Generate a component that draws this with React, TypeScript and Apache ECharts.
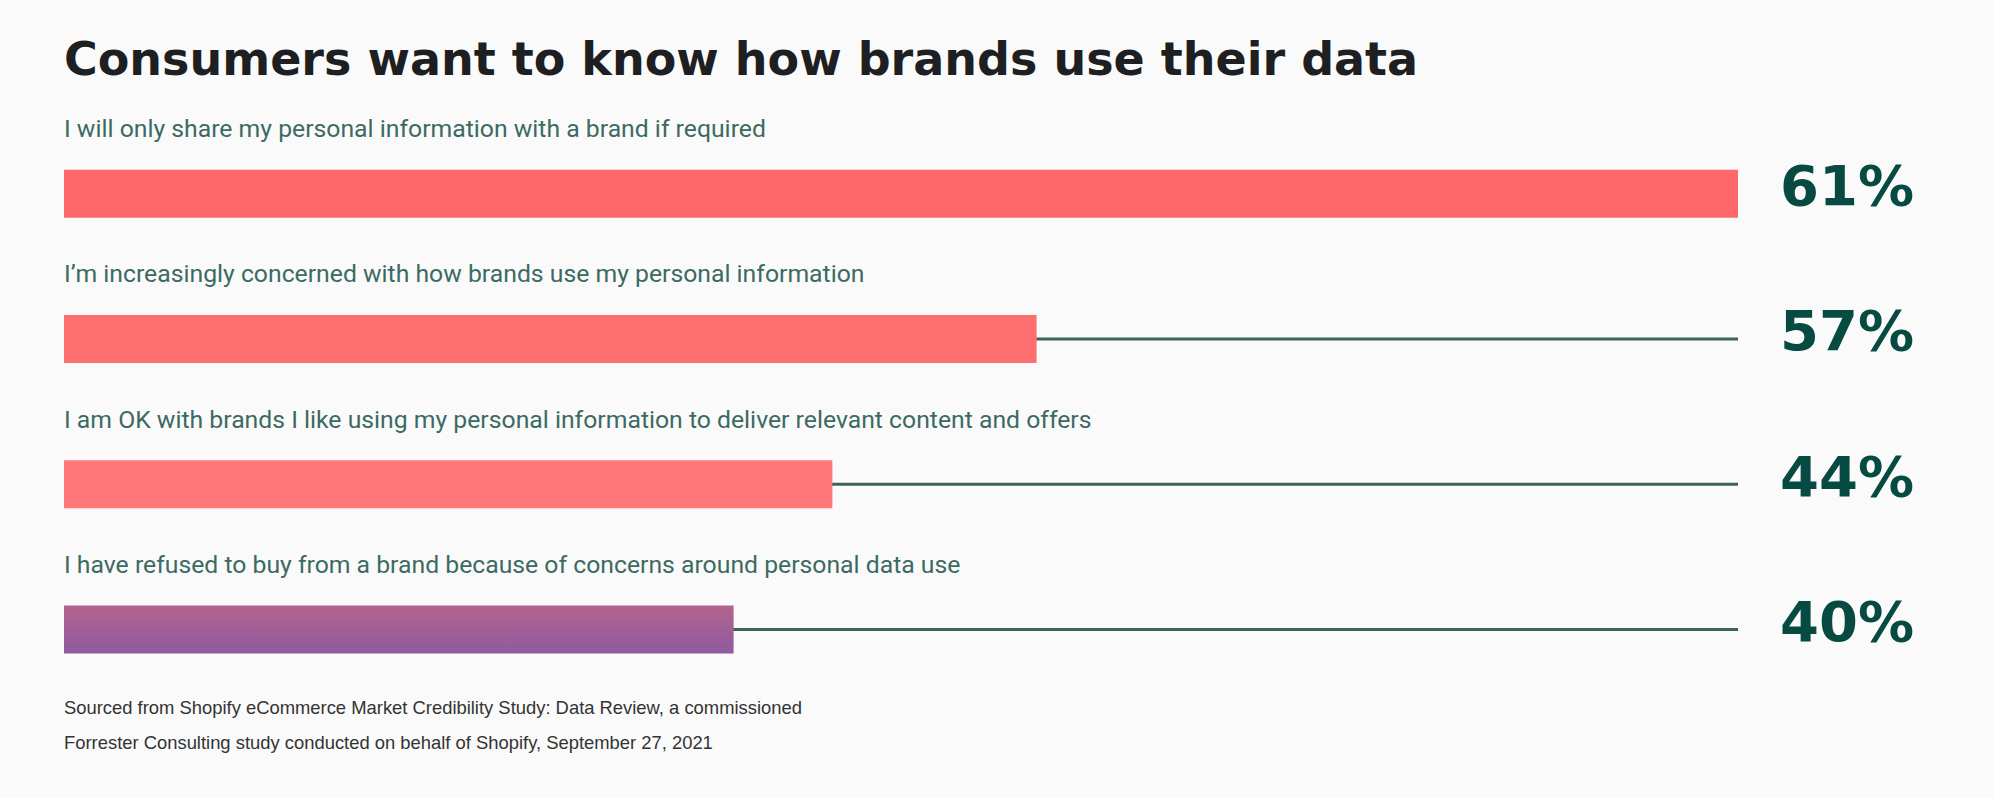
import React, { useEffect, useRef } from "react";
import * as echarts from "echarts";

const chartTitle = "Consumers want to know how brands use their data";
const categories = [
  "I will only share my personal information with a brand if required",
  "I\u2019m increasingly concerned with how brands use my personal information",
  "I am OK with brands I like using my personal information to deliver relevant content and offers",
  "I have refused to buy from a brand because of concerns around personal data use",
];
const percentValues = [61, 57, 44, 40];
// drawn bar length, as a share of the full track
const barShare = [100, 58.1, 45.9, 40.0];
const trackShare = [100, 100, 100, 100];
const sourceLines = [
  "Sourced from Shopify eCommerce Market Credibility Study: Data Review, a commissioned",
  "Forrester Consulting study conducted on behalf of Shopify, September 27, 2021",
];
const barColors = ["#ff6868", "#ff6f6f", "#ff7777"];

export default function App() {
  const ref = useRef<HTMLDivElement>(null);
  useEffect(() => {
    if (!ref.current) return;
    const chart = echarts.init(ref.current, undefined, { renderer: "svg" });
    const purple = new echarts.graphic.LinearGradient(0, 0, 0, 1, [
      { offset: 0, color: "#b4648f" },
      { offset: 1, color: "#8f5a9f" },
    ]);
    chart.setOption({
      animation: false,
      backgroundColor: "#fafafa",
      title: [
        {
          text: chartTitle,
          left: 64,
          top: 35.5,
          padding: 0,
          textStyle: {
            fontFamily: "DejaVu Sans",
            fontWeight: "bold",
            fontSize: 46,
            lineHeight: 46,
            color: "#1e1f22",
          },
        },
        {
          text: sourceLines.join("\n"),
          left: 64,
          top: 690,
          padding: 0,
          textStyle: {
            fontFamily: "Liberation Sans",
            fontWeight: "normal",
            fontSize: 18.4,
            lineHeight: 35,
            color: "#333333",
          },
        },
      ],
      grid: { left: 64, right: 256, top: 121, bottom: 96, containLabel: false },
      xAxis: { type: "value", min: 0, max: 100, show: false },
      yAxis: [
        { type: "category", data: categories, inverse: true, show: false },
        { type: "category", data: categories, inverse: true, show: false },
      ],
      series: [
        {
          type: "bar",
          yAxisIndex: 1,
          data: trackShare,
          barWidth: 3,
          z: 1,
          silent: true,
          itemStyle: { color: "#41625c" },
          label: {
            show: true,
            position: "right",
            distance: 42,
            offset: [0, -8],
            formatter: (p: any) => percentValues[p.dataIndex] + "%",
            fontFamily: "DejaVu Sans",
            fontWeight: "bold",
            fontSize: 56,
            color: "#074a42",
          },
        },
        {
          type: "bar",
          yAxisIndex: 0,
          data: barShare.map((v, i) => ({
            value: v,
            itemStyle: { color: i < 3 ? barColors[i] : purple },
          })),
          barWidth: 48,
          z: 2,
          silent: true,
          label: {
            show: true,
            position: [0, -41],
            align: "left",
            verticalAlign: "middle",
            formatter: (p: any) => categories[p.dataIndex],
            fontFamily: "Roboto",
            fontSize: 24.75,
            color: "#3c6a63",
          },
        },
      ],
    });
    return () => chart.dispose();
  }, []);
  return (
    <div
      ref={ref}
      style={{ position: "absolute", left: 0, top: 0, width: 1994, height: 798, background: "#fafafa" }}
    />
  );
}
